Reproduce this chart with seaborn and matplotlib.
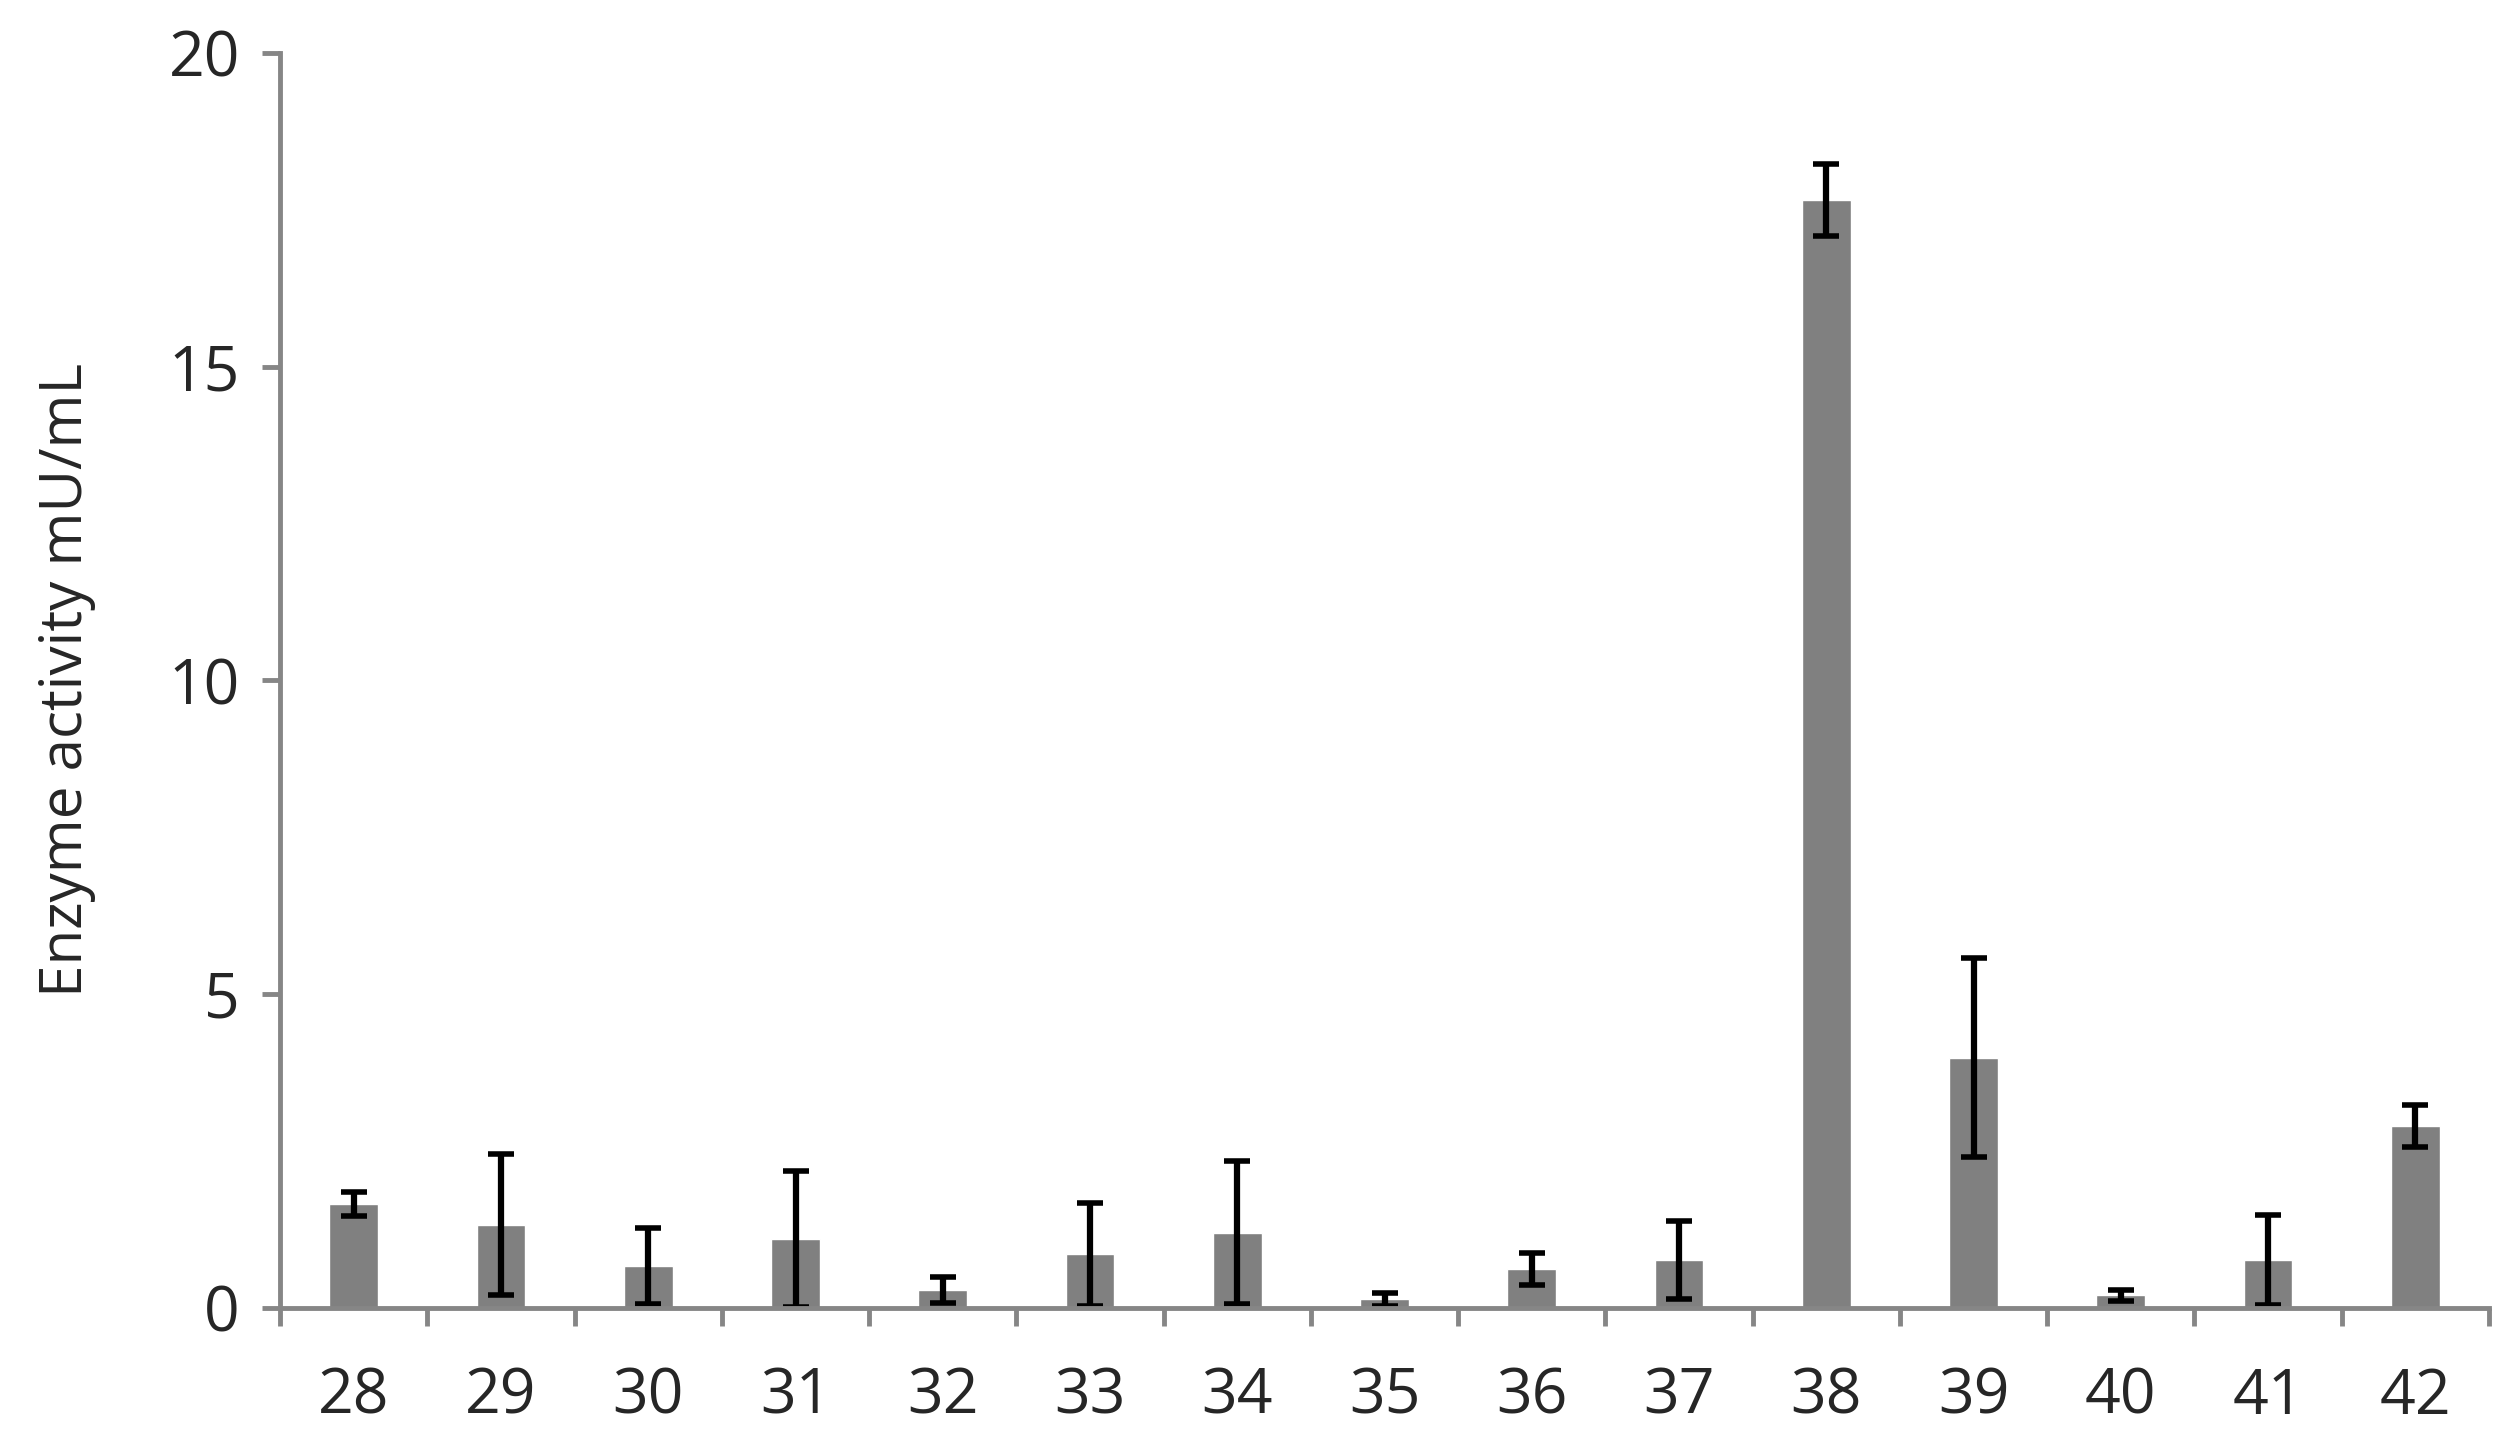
import numpy as np
import pandas as pd
import matplotlib
matplotlib.use("Agg")
import matplotlib.pyplot as plt
import seaborn as sns

# Values
fractions = ['28', '29', '30', '31', '32', '33', '34', '35', '36', '37', '38', '39', '40', '41', '42']
activity = [1.66, 1.33, 0.67, 1.10, 0.29, 0.86, 1.20, 0.14, 0.62, 0.76, 17.65, 3.99, 0.20, 0.77, 2.90]
activity_err = [0.19, 1.12, 0.61, 1.08, 0.21, 0.82, 1.14, 0.10, 0.26, 0.62, 0.57, 1.58, 0.09, 0.72, 0.33]
y_ticks = [0, 5, 10, 15, 20]

df = pd.DataFrame({'Fraction': fractions, 'Activity': activity, 'Err': activity_err})

sns.set_style('white')
plt.rcParams['font.family'] = ['Open Sans', 'DejaVu Sans']

axis_grey = '#868686'

fig = plt.figure(figsize=(25.1, 14.54), dpi=100)
ax = fig.add_axes([0.1116, 0.1004, 0.88, 0.8633])

sns.barplot(data=df, x='Fraction', y='Activity', color='#808080', saturation=1,
            width=0.33, errorbar=None, ax=ax)
ax.errorbar(np.arange(len(fractions)), df['Activity'], yerr=df['Err'], fmt='none',
            ecolor='black', elinewidth=4.5, capsize=9.5, capthick=4.0)

ax.set_xlim(-0.5, len(fractions) - 0.5)
ax.set_ylim(0, 20)

# Excel-style ticks: marks on the category boundaries, labels centered
ax.set_xticks(np.arange(-0.5, len(fractions), 1.0))
ax.set_xticklabels([])
ax.set_xticks(np.arange(len(fractions)), minor=True)
ax.set_xticklabels(fractions, minor=True, fontsize=45)
ax.tick_params(axis='x', which='major', bottom=True, length=13, width=3.5,
               color=axis_grey, direction='out')
ax.tick_params(axis='x', which='minor', bottom=True, length=0, pad=42)

ax.set_yticks(y_ticks)
ax.set_yticklabels([str(v) for v in y_ticks], fontsize=45)
ax.tick_params(axis='y', left=True, length=13, width=3.5, color=axis_grey,
               direction='out', pad=16)

ax.set_xlabel('')
ax.set_ylabel('Enzyme activity mU/mL', fontsize=42, labelpad=52)

for side in ['top', 'right']:
    ax.spines[side].set_visible(False)
for side in ['left', 'bottom']:
    ax.spines[side].set_color(axis_grey)
    ax.spines[side].set_linewidth(3.5)

fig.savefig('out.png', dpi=100)
